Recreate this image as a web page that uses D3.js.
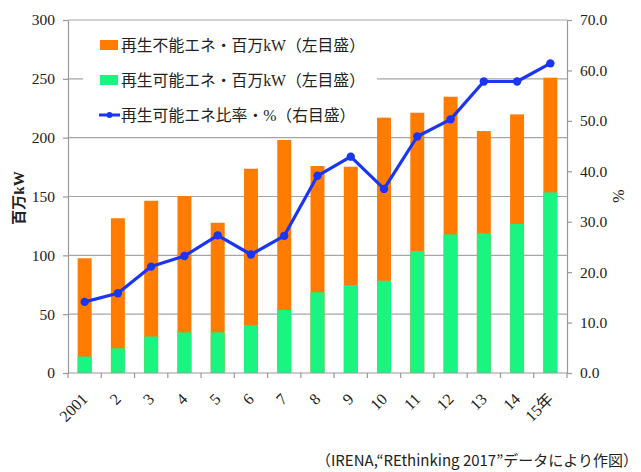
<!DOCTYPE html>
<html>
<head>
<meta charset="utf-8">
<script src="https://cdn.jsdelivr.net/npm/d3@7"></script>
<style>
  body { margin: 0; background: #fff; }
  svg text { font-family: "Liberation Serif", "Noto Sans CJK JP", serif; fill: #222; }
</style>
</head>
<body>
<svg id="svg" width="641" height="472"></svg>
<script>
// data
const years = ['2001', '2', '3', '4', '5', '6', '7', '8', '9', '10', '11', '12', '13', '14', '15年'];
const renewable = [14, 21, 31, 34.5, 34.5, 40.5, 53.5, 68.6, 74.8, 78.4, 103.7, 117.8, 118.7, 126.6, 153.5];
const total = [97.5, 131.5, 146.4, 150.4, 127.7, 173.6, 198, 175.9, 175.3, 217, 221.2, 234.8, 205.6, 219.8, 251];
const share = [14.1, 15.8, 21.1, 23.2, 27.3, 23.5, 27.2, 39.1, 42.9, 36.5, 46.9, 50.3, 57.8, 57.8, 61.4];
const leftTicks = [0, 50, 100, 150, 200, 250, 300];
const rightTicks = [0, 10, 20, 30, 40, 50, 60, 70];
const legendLabels = ['再生不能エネ・百万kW（左目盛）', '再生可能エネ・百万kW（左目盛）', '再生可能エネ比率・%（右目盛）'];

const orange = '#ff7c00';
const green = '#19f580';
const blue = '#1a35f5';

const margin = {left: 68, right: 74, top: 20, bottom: 99};
const W = 641, H = 472;
const svg = d3.select('#svg');

const x = d3.scaleBand().domain(years).range([margin.left, W - margin.right]).paddingInner(0.58).paddingOuter(0.29);
const xb = d3.scaleLinear().domain([0, years.length]).range([margin.left, W - margin.right]);
const yL = d3.scaleLinear().domain([0, 300]).range([H - margin.bottom, margin.top]);
const yR = d3.scaleLinear().domain([0, 70]).range([H - margin.bottom, margin.top]);

// gridlines
svg.append('g').selectAll('line').data(leftTicks.slice(1)).enter().append('line')
  .attr('x1', margin.left).attr('x2', W - margin.right)
  .attr('y1', (d) => yL(d)).attr('y2', (d) => yL(d))
  .attr('stroke', '#a6a6a6').attr('stroke-width', 1.2);

// bars
const bars = svg.append('g');
bars.selectAll('rect.nr').data(total).enter().append('rect')
  .attr('x', (d, i) => x(years[i])).attr('width', x.bandwidth())
  .attr('y', (d) => yL(d)).attr('height', (d) => yL(0) - yL(d))
  .attr('fill', orange);
bars.selectAll('rect.re').data(renewable).enter().append('rect')
  .attr('x', (d, i) => x(years[i])).attr('width', x.bandwidth())
  .attr('y', (d) => yL(d)).attr('height', (d) => yL(0) - yL(d))
  .attr('fill', green);

// legend box covers gridlines
const lg = svg.append('g');
lg.append('rect').attr('x', 83).attr('y', 27).attr('width', 294).attr('height', 104).attr('fill', '#fff');
legendLabels.forEach((t, i) => {
  const yy = 45 + i * 35;
  if (i < 2) {
    lg.append('rect').attr('x', 100).attr('y', yy - 5).attr('width', 18).attr('height', 10).attr('fill', i == 0 ? orange : green);
  } else {
    lg.append('line').attr('x1', 99).attr('x2', 120).attr('y1', yy).attr('y2', yy).attr('stroke', blue).attr('stroke-width', 3);
    lg.append('circle').attr('cx', 109.5).attr('cy', yy).attr('r', 3).attr('fill', blue);
  }
  lg.append('text').attr('x', 121).attr('y', yy + 6).attr('font-size', 15.8).text(t);
});

// line
const line = d3.line().x((d, i) => x(years[i]) + x.bandwidth() / 2).y((d) => yR(d));
svg.append('path').datum(share).attr('d', line).attr('fill', 'none')
  .attr('stroke', blue).attr('stroke-width', 3.2).attr('stroke-linejoin', 'round');
svg.append('g').selectAll('circle').data(share).enter().append('circle')
  .attr('cx', (d, i) => x(years[i]) + x.bandwidth() / 2).attr('cy', (d) => yR(d))
  .attr('r', 4.2).attr('fill', blue);

// axes
const axisStyle = (g) => {
  g.select('.domain').attr('stroke', '#999').attr('stroke-width', 1.2);
  g.selectAll('.tick line').attr('stroke', '#999').attr('stroke-width', 1.2);
  g.selectAll('.tick text').attr('font-size', 15.5).attr('fill', '#222');
};

svg.append('g').attr('transform', `translate(${margin.left},0)`)
  .call(d3.axisLeft(yL).tickValues(leftTicks).tickSize(5).tickSizeOuter(0).tickPadding(8))
  .call(axisStyle);

svg.append('g').attr('transform', `translate(${W - margin.right},0)`)
  .call(d3.axisRight(yR).tickValues(rightTicks).tickFormat(d3.format('.1f')).tickSize(5).tickSizeOuter(0).tickPadding(8))
  .call(axisStyle);

const xg = svg.append('g').attr('transform', `translate(0,${H - margin.bottom})`);
xg.append('line').attr('x1', margin.left).attr('x2', W - margin.right).attr('stroke', '#999').attr('stroke-width', 1.2);
xg.selectAll('line.t').data(d3.range(years.length + 1)).enter().append('line')
  .attr('x1', (d) => xb(d)).attr('x2', (d) => xb(d)).attr('y1', 0).attr('y2', 5)
  .attr('stroke', '#999').attr('stroke-width', 1.2);
xg.selectAll('text').data(years).enter().append('text')
  .attr('transform', (d) => `translate(${x(d) + x.bandwidth() / 2 + 4},${27}) rotate(-45)`)
  .attr('text-anchor', 'end').attr('font-size', 16).text((d) => d);

// axis titles
svg.append('text').attr('transform', 'translate(24,198) rotate(-90)')
  .attr('text-anchor', 'middle').attr('font-size', 15).attr('font-weight', 'bold').text('百万kW');
svg.append('text').attr('transform', 'translate(624,196) rotate(-90)')
  .attr('text-anchor', 'middle').attr('font-size', 16).text('%');

// source
svg.append('text').attr('x', 638).attr('y', 466).attr('text-anchor', 'end')
  .attr('font-size', 15).style('font-family', '"Noto Sans CJK JP", sans-serif')
  .text('（IRENA,“REthinking 2017”データにより作図）');
</script>
</body>
</html>
